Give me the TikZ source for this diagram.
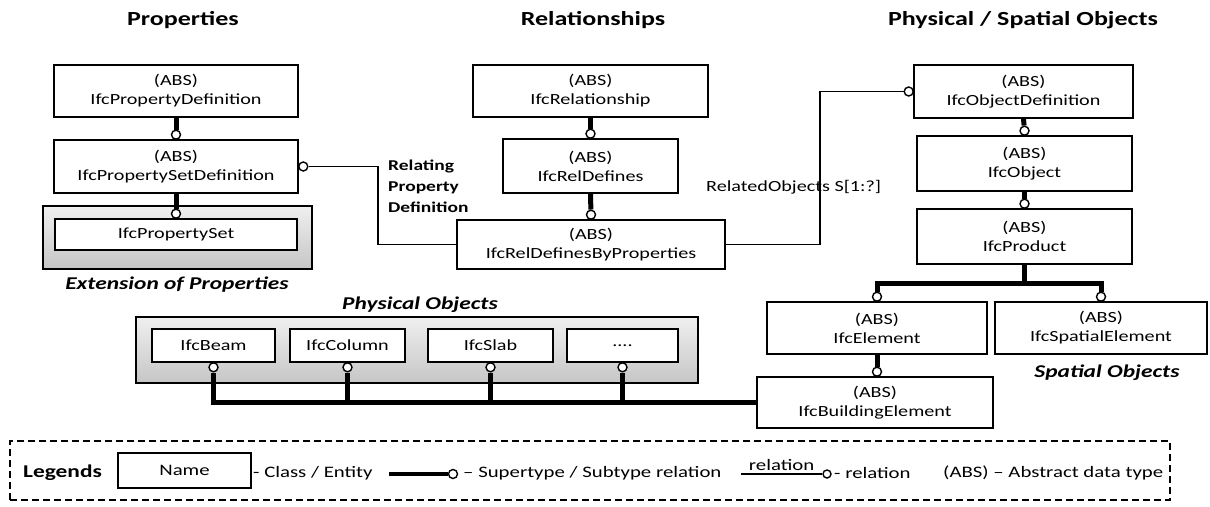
\documentclass[tikz,border=0pt]{standalone}
\usepackage{fontspec}
\setmainfont{Carlito}[FakeStretch=1.3]
\usetikzlibrary{calc}
\begin{document}
\begin{tikzpicture}[x=1pt,y=-1pt,
  box/.style={draw, line width=1.6pt, fill=white, inner sep=0pt, align=center, font=\fontsize{15.5}{19}\selectfont},
  greybox/.style={draw, line width=1.4pt, top color=gray!12, bottom color=gray!45, inner sep=0pt},
  sub/.style={line width=5pt},
  oc/.style={circle, draw, fill=white, line width=1.4pt, inner sep=0pt, minimum size=9pt},
  rel/.style={line width=1.5pt},
  title/.style={font=\fontsize{20}{24}\selectfont\bfseries},
  caption/.style={font=\fontsize{18}{22}\selectfont\bfseries\itshape},
  legtext/.style={inner sep=0pt, font=\fontsize{16}{19}\selectfont}
]
\fill[white] (0,0) rectangle (1210,506);
\useasboundingbox (0,0) rectangle (1210,506);

% titles
\node[title] (t1) at (183,20) {Properties};
\node[title] (t2) at (593,20) {Relationships};
\node[title] (t3) at (1023,20) {Physical / Spatial Objects};

% properties column
\node[box, minimum width=244pt, minimum height=52pt] (PD) at (176,91) {(ABS)\\IfcPropertyDefinition};
\node[box, minimum width=244pt, minimum height=53pt] (PSD) at (176,166.5) {(ABS)\\IfcPropertySetDefinition};
\node[greybox, minimum width=269pt, minimum height=63pt] (Ext) at (177.5,237.5) {};
\node[box, minimum width=242pt, minimum height=31pt] (PS) at (176,234.5) {IfcPropertySet};
\node[caption] (capExt) at (177,285) {Extension of Properties};

% relationships column
\node[box, minimum width=235pt, minimum height=52pt] (Rel) at (590.5,91) {(ABS)\\IfcRelationship};
\node[box, minimum width=175pt, minimum height=54pt] (RD) at (590.5,166) {(ABS)\\IfcRelDefines};
\node[box, minimum width=268pt, minimum height=49pt] (RDBP) at (591,244.5) {(ABS)\\IfcRelDefinesByProperties};

% objects column
\node[box, minimum width=219pt, minimum height=53pt] (OD) at (1023.5,91.5) {(ABS)\\IfcObjectDefinition};
\node[box, minimum width=215pt, minimum height=55pt] (Obj) at (1024.5,163.5) {(ABS)\\IfcObject};
\node[box, minimum width=215pt, minimum height=55pt] (Prod) at (1024.5,236.5) {(ABS)\\IfcProduct};
\node[box, minimum width=220pt, minimum height=52pt] (Elem) at (877,328) {(ABS)\\IfcElement};
\node[box, minimum width=212pt, minimum height=52pt] (SpE) at (1101,328) {(ABS)\\IfcSpatialElement};
\node[box, minimum width=236pt, minimum height=51pt] (BE) at (875,402.5) {(ABS)\\IfcBuildingElement};
\node[caption] (capSp) at (1107,373) {Spatial Objects};

% physical objects
\node[caption] (capPhys) at (420,305) {Physical Objects};
\node[greybox, minimum width=562pt, minimum height=66pt] (Phys) at (417,350) {};
\node[box, minimum width=123pt, minimum height=33pt] (Beam) at (213.5,345.5) {IfcBeam};
\node[box, minimum width=115pt, minimum height=33pt] (Col) at (347.5,345.5) {IfcColumn};
\node[box, minimum width=125pt, minimum height=33pt] (Slab) at (490.5,345.5) {IfcSlab};
\node[box, minimum width=111pt, minimum height=33pt] (Dots) at (622.5,345.5) {....};

% circles for supertype/subtype
\node[oc] (cPSD) at ($(PSD.north)+(0,-4.5)$) {};
\node[oc] (cPS) at ($(PS.north)+(0,-4.5)$) {};
\node[oc] (cRD) at ($(RD.north)+(0,-4.5)$) {};
\node[oc] (cRDBP) at ($(RDBP.north)+(0,-4.5)$) {};
\node[oc] (cObj) at ($(Obj.north)+(0,-4.5)$) {};
\node[oc] (cProd) at ($(Prod.north)+(0,-4.5)$) {};
\node[oc] (cElem) at ($(Elem.north)+(0,-4.5)$) {};
\node[oc] (cSpE) at ($(SpE.north)+(0,-4.5)$) {};
\node[oc] (cBE) at ($(Elem.south |- BE.north)+(0,-4.5)$) {};
\node[oc] (cBeam) at ($(Beam.south)+(0,4.5)$) {};
\node[oc] (cCol) at ($(Col.south)+(0,4.5)$) {};
\node[oc] (cSlab) at ($(Slab.south)+(0,4.5)$) {};
\node[oc] (cDots) at ($(Dots.south)+(0,4.5)$) {};

\draw[sub] (PD.south) -- (cPSD);
\draw[sub] (PSD.south) -- (cPS);
\draw[sub] (Rel.south) -- (cRD);
\draw[sub] (RD.south) -- (cRDBP);
\draw[sub] (OD.south) -- (cObj);
\draw[sub] (Obj.south) -- (cProd);
\draw[sub] (Prod.south) -- ($(Prod.south)+(0,19)$) coordinate (br);
\draw[sub] (cElem) |- (br) -| (cSpE);
\draw[sub] (Elem.south) -- (cBE);
\draw[sub] (cBeam) |- (BE.west);
\draw[sub] (cCol) -- (cCol |- BE.west);
\draw[sub] (cSlab) -- (cSlab |- BE.west);
\draw[sub] (cDots) -- (cDots |- BE.west);

% relations
\node[oc] (cR1) at ($(PSD.east)+(4.5,0)$) {};
\coordinate (k1) at (378,166.5);
\draw[rel] (cR1) -- (k1) |- (RDBP.west);
\node[oc] (cR2) at ($(OD.west)+(-4.5,0)$) {};
\coordinate (k2) at (820,91.5);
\draw[rel] (RDBP.east) -| (k2) -- (cR2);
\node[anchor=west, align=left, inner sep=0pt, font=\fontsize{15}{21}\selectfont\bfseries] (lblRPD) at (388,186) {Relating\\Property\\Definition};
\node[anchor=west, inner sep=0pt, font=\fontsize{15.5}{19}\selectfont] (lblRO) at (706,187) {RelatedObjects S[1:?]};

% legend
\node[draw, dash pattern=on 7pt off 4pt, line width=1.5pt, minimum width=1160pt, minimum height=59pt] (leg) at (590,470.5) {};
\node[anchor=west, inner sep=0pt, font=\fontsize{18}{22}\selectfont\bfseries] (legT) at (23,473) {Legends};
\node[box, minimum width=133pt, minimum height=35pt, font=\fontsize{16}{19}\selectfont] (legName) at (184.5,470.5) {Name};
\node[anchor=west, legtext] (legC) at (253,473) {- Class / Entity};
\coordinate (lsA) at (389,474);
\node[oc] (lsC) at (453,474) {};
\draw[line width=4pt] (lsA) -- (lsC);
\node[anchor=west, legtext] (legS) at (463,473) {– Supertype / Subtype relation};
\coordinate (lrA) at (741,474);
\node[oc, minimum size=8pt] (lrC) at (827,474) {};
\draw[rel] (lrA) -- node[above=3pt, legtext] (legRl) {relation} (lrC);
\node[anchor=west, legtext] (legR) at (834,473) {- relation};
\node[anchor=west, legtext] (legA) at (943,473) {(ABS) – Abstract data type};
\end{tikzpicture}
\end{document}
